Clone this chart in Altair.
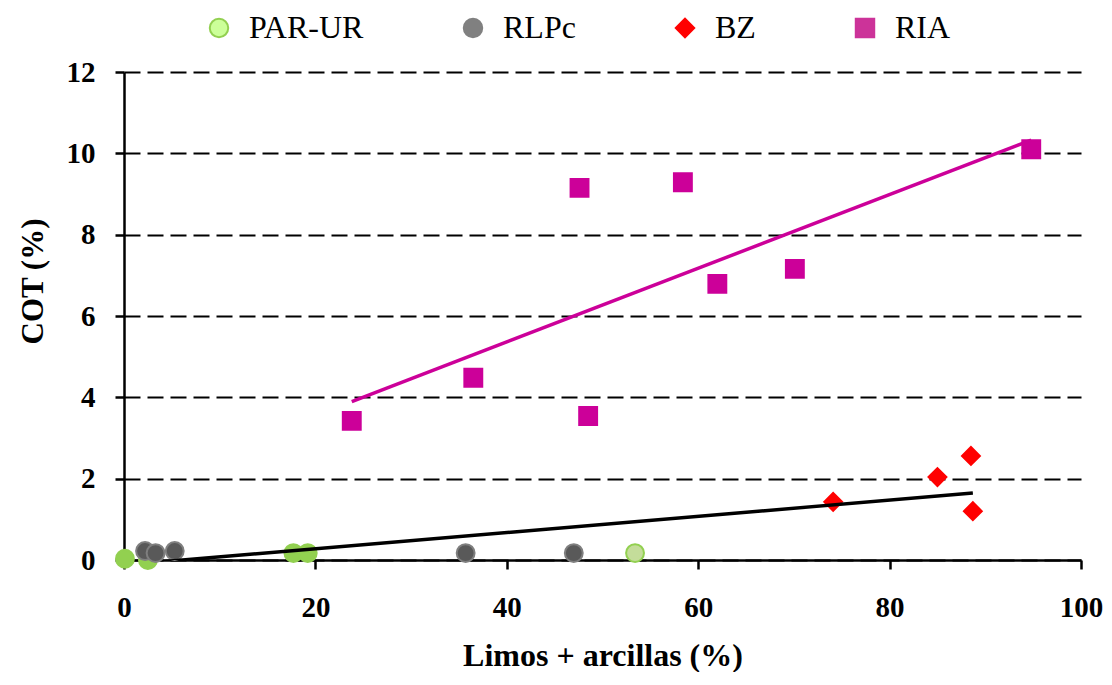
import altair as alt
import pandas as pd

# ---- data ----
par_x = [0.1, 2.5, 17.7, 19.2, 53.4]
par_y = [0.03, 0.0, 0.17, 0.17, 0.17]
par_k = ["PAR-UR", "PAR-UR", "PAR-UR", "PAR-UR", "PAR-UR b"]

rlpc_x = [2.2, 3.3, 5.3, 35.7, 47.0]
rlpc_y = [0.22, 0.17, 0.22, 0.17, 0.17]

bz_x = [74.1, 85.0, 88.5, 88.7]
bz_y = [1.43, 2.04, 2.56, 1.20]

ria_x = [23.8, 36.5, 47.6, 48.5, 58.4, 62.0, 70.1, 94.8]
ria_y = [3.42, 4.48, 9.15, 3.54, 9.29, 6.79, 7.16, 10.1]

groups = ["PAR-UR", "RLPc", "BZ", "RIA"]
x_ticks = [0, 20, 40, 60, 80, 100]
y_ticks = [0, 2, 4, 6, 8, 10, 12]

rows = []
for xv, yv, k in zip(par_x, par_y, par_k):
    rows.append({"x": xv, "y": yv, "group": "PAR-UR", "key": k})
for xv, yv in zip(rlpc_x, rlpc_y):
    rows.append({"x": xv, "y": yv, "group": "RLPc", "key": "RLPc"})
for xv, yv in zip(bz_x, bz_y):
    rows.append({"x": xv, "y": yv, "group": "BZ", "key": "BZ"})
for xv, yv in zip(ria_x, ria_y):
    rows.append({"x": xv, "y": yv, "group": "RIA", "key": "RIA"})
df = pd.DataFrame(rows)

FONT = "Liberation Serif"

xs = alt.Scale(domain=[0, 100], nice=False, zero=False)
ys = alt.Scale(domain=[0, 12], nice=False, zero=False)

X = alt.X("x:Q", scale=xs, axis=alt.Axis(
    values=x_ticks, title="Limos + arcillas (%)", grid=False,
    titleY=105, titleBaseline="alphabetic", titleFontSize=32,
    titleFont=FONT, titleFontWeight="bold",
    labelFont=FONT, labelFontSize=29, labelFontWeight="bold",
    labelFlush=False, labelPadding=24))
Y = alt.Y("y:Q", scale=ys, axis=alt.Axis(
    values=y_ticks, title="COT  (%)", grid=True,
    titleX=-82, titleY=209, titleBaseline="alphabetic", titleAngle=270,
    titleFont=FONT, titleFontWeight="bold", titleFontSize=31,
    labelFont=FONT, labelFontSize=29, labelFontWeight="bold",
    labelFlush=False, labelPadding=20))

base = alt.Chart(df)

keys = ["PAR-UR", "PAR-UR b", "RLPc", "BZ", "RIA"]
fill_plot = ["#92D050", "#C4DD9A", "#595959", "#FF0000", "#CC0099"]
stroke_plot = ["#92D050", "#92D050", "#7F7F7F", "#FF0000", "#CC0099"]
shapes = ["circle", "circle", "diamond", "square"]

points = base.mark_point(filled=True, opacity=1, size=320, strokeWidth=2).encode(
    x=X, y=Y,
    fill=alt.Fill("key:N", scale=alt.Scale(domain=keys, range=fill_plot), legend=None),
    stroke=alt.Stroke("key:N", scale=alt.Scale(domain=keys, range=stroke_plot), legend=None),
    shape=alt.Shape("group:N", scale=alt.Scale(domain=groups, range=shapes), legend=None),
)

fill_leg = ["#CCFF99", "#808080", "#FF0000", "#CC3399"]
stroke_leg = ["#92D050", "#808080", "#FF0000", "#CC3399"]
leg = alt.Legend(title=None, orient="none", legendX=79, legendY=-60,
                 direction="horizontal", columns=4, columnPadding=93,
                 labelFont=FONT, labelFontSize=32, labelColor="black",
                 labelOffset=14, symbolSize=340, symbolStrokeWidth=2,
                 padding=0)
legend_layer = base.transform_filter("false").mark_point(
    filled=True, opacity=1, size=320).encode(
    x=X, y=Y,
    fill=alt.Fill("group:N", scale=alt.Scale(domain=groups, range=fill_leg), legend=leg),
    stroke=alt.Stroke("group:N", scale=alt.Scale(domain=groups, range=stroke_leg), legend=leg),
    shape=alt.Shape("group:N", scale=alt.Scale(domain=groups, range=shapes), legend=leg),
)

line_black = base.transform_filter("datum.group != 'RIA'").transform_regression(
    "x", "y").mark_line(color="black", strokeWidth=3.5, clip=True).encode(x=X, y=Y)
line_pink = base.transform_filter("datum.group == 'RIA'").transform_regression(
    "x", "y").mark_line(color="#CC0099", strokeWidth=3.5, clip=True).encode(x=X, y=Y)

chart = alt.layer(points, legend_layer, line_black, line_pink).resolve_scale(
    fill="independent", stroke="independent", shape="independent"
).properties(
    width=957, height=488,
    autosize=alt.AutoSizeParams(type="none"),
    padding={"left": 116, "top": 64, "right": 23, "bottom": 112},
).configure_view(stroke=None).configure_axis(
    labelFont=FONT, labelFontSize=29, labelFontWeight="bold", labelColor="black",
    titleFont=FONT, titleFontWeight="bold", titleColor="black",
    domainColor="black", domainWidth=2.5, tickColor="black", tickWidth=2.5,
    tickSize=9, gridColor="black", gridDash=[16, 7], gridWidth=2, gridOpacity=1,
)

chart.save("out.html", embed_options={"renderer": "svg", "actions": False})
